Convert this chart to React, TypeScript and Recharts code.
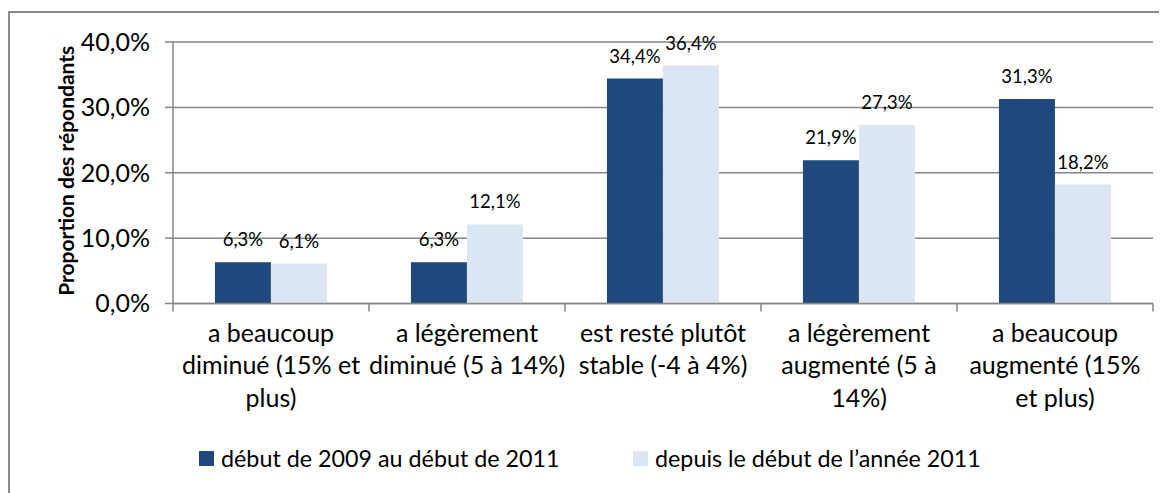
import React from "react";
import { BarChart, Bar, XAxis, YAxis, CartesianGrid, Legend, LabelList } from "recharts";

const categories = [
  "a beaucoup\ndiminué (15% et\nplus)",
  "a légèrement\ndiminué (5 à 14%)",
  "est resté plutôt\nstable (-4 à 4%)",
  "a légèrement\naugmenté (5 à\n14%)",
  "a beaucoup\naugmenté (15%\net plus)",
];
const series1 = [6.3, 6.3, 34.4, 21.9, 31.3];
const series2 = [6.1, 12.1, 36.4, 27.3, 18.2];
const seriesKeys = ["s1", "s2"];
const seriesNames = ["début de 2009 au début de 2011", "depuis le début de l’année 2011"];
const yTicks = [0, 10, 20, 30, 40];
const yLabel = "Proportion des répondants";

const data = categories.map((c, i) => ({ cat: c, s1: series1[i], s2: series2[i] }));

const FONT = "Lato, 'Open Sans', sans-serif";
const DARK = "#1F497D";
const LIGHT = "#DCE6F2";
const GRID = "#868686";

const fmt = (v: number) => v.toFixed(1).replace(".", ",") + "%";

const XTick = (props: any) => {
  const { x, y, payload, index } = props;
  const half = payload && payload.offset ? payload.offset : 98;
  const lines = String(payload.value).split("\n");
  const axisY = y - 10;
  return (
    <g>
      <line x1={x - half} x2={x - half} y1={axisY} y2={axisY + 8} stroke={GRID} strokeWidth={1.5} />
      {index === categories.length - 1 && (
        <line x1={x + half} x2={x + half} y1={axisY} y2={axisY + 8} stroke={GRID} strokeWidth={1.5} />
      )}
      <text x={x} y={y} textAnchor="middle" fontFamily={FONT} fontSize={25} fill="#000">
        {lines.map((l, i) => (
          <tspan key={i} x={x} dy={i === 0 ? 28 : 32.5}>
            {l}
          </tspan>
        ))}
      </text>
    </g>
  );
};

const LegendContent = (props: any) => {
  const payload = [...(props.payload || [])].sort(
    (a: any, b: any) => seriesKeys.indexOf(a.dataKey) - seriesKeys.indexOf(b.dataKey)
  );
  const lefts = [191, 625];
  return (
    <div style={{ position: "relative", height: 30, width: 1159 }}>
      {payload.map((p: any, i: number) => (
        <div
          key={i}
          style={{
            position: "absolute",
            left: lefts[i],
            top: 0,
            height: 30,
            display: "flex",
            alignItems: "center",
            whiteSpace: "nowrap",
          }}
        >
          <span style={{ display: "inline-block", width: 15, height: 15, background: p.color, marginRight: 7 }} />
          <span style={{ fontFamily: FONT, fontSize: 23.3, color: "#000" }}>{p.value}</span>
        </div>
      ))}
    </div>
  );
};

const YLabel = (props: any) => {
  const vb = props.viewBox || { x: 0, y: 34, width: 165, height: 261 };
  const cx = 57;
  const cy = vb.y + vb.height / 2 - 2;
  return (
    <text
      x={cx}
      y={cy}
      transform={`rotate(-90 ${cx} ${cy})`}
      textAnchor="middle"
      dominantBaseline="central"
      fontFamily={FONT}
      fontWeight={700}
      fontSize={21}
      fill="#000"
    >
      {yLabel}
    </text>
  );
};

export default function App() {
  return (
    <div style={{ position: "relative", width: 1159, height: 485 }}>
      <div
        style={{
          position: "absolute",
          left: 0,
          top: 3,
          width: 1157,
          height: 482,
          borderTop: "2px solid #898989",
          borderLeft: "2px solid #898989",
        }}
      />
      <BarChart
        width={1159}
        height={485}
        data={data}
        margin={{ top: 34, right: 14, left: 0, bottom: 49.5 }}
        barCategoryGap="21.4%"
        barGap={0}
        style={{ position: "absolute", left: 0, top: 0 }}
      >
        <CartesianGrid vertical={false} stroke={GRID} strokeWidth={1.5} />
        <XAxis
          dataKey="cat"
          height={110}
          interval={0}
          tickLine={false}
          tickSize={8}
          tickMargin={2}
          axisLine={{ stroke: GRID, strokeWidth: 1.5 }}
          tick={<XTick />}
        />
        <YAxis
          width={165}
          domain={[0, 40]}
          ticks={yTicks}
          tickFormatter={fmt}
          tickSize={8}
          tickMargin={15}
          tickLine={{ stroke: GRID, strokeWidth: 1.5 }}
          axisLine={{ stroke: GRID, strokeWidth: 1.5 }}
          tick={{ fontFamily: FONT, fontSize: 25, fill: "#000" }}
          label={<YLabel />}
        />
        <Legend
          content={<LegendContent />}
          wrapperStyle={{ position: "absolute", left: 0, top: 435, width: 1159, height: 30 }}
        />
        <Bar dataKey="s1" name={seriesNames[0]} fill={DARK} isAnimationActive={false}>
          <LabelList dataKey="s1" position="top" offset={16} formatter={fmt as any} fontFamily={FONT} fontSize={18.5} fill="#000" />
        </Bar>
        <Bar dataKey="s2" name={seriesNames[1]} fill={LIGHT} isAnimationActive={false}>
          <LabelList dataKey="s2" position="top" offset={16} formatter={fmt as any} fontFamily={FONT} fontSize={18.5} fill="#000" />
        </Bar>
      </BarChart>
    </div>
  );
}
